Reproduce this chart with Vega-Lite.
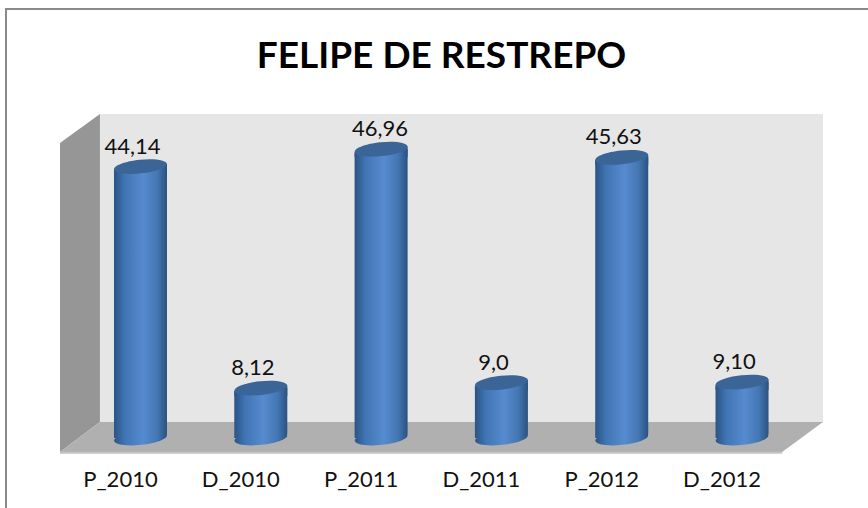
{
"$schema":"https://vega.github.io/schema/vega-lite/v6.json",
"width":763,"height":339,
"autosize":{"type":"none"},
"padding":{"left":60,"top":114,"right":45,"bottom":55},
"background":"#ffffff",
"view":{"stroke":null},
"title":{"text":"FELIPE DE RESTREPO","font":"Lato","fontSize":37,"fontWeight":"bold","color":"#000000","anchor":"middle","offset":-68},
"datasets":{
"bars":[
{"x":1,"y":44.14,"name":"P_2010","label":"44,14"},
{"x":2,"y":8.12,"name":"D_2010","label":"8,12"},
{"x":3,"y":46.96,"name":"P_2011","label":"46,96"},
{"x":4,"y":9.0,"name":"D_2011","label":"9,0"},
{"x":5,"y":45.63,"name":"P_2012","label":"45,63"},
{"x":6,"y":9.10,"name":"D_2012","label":"9,10"}
],
"frame":[{"x":-0.118,"x2":7.2,"y":69.76,"y2":-13.5}],
"back":[{"x":0.663,"x2":6.673,"y":52.68,"y2":2.6}],
"side":[{"x":0.331,"y":47.97,"y2":-2.28},{"x":0.663,"y":52.68,"y2":2.6}],
"floor":[{"x":0.331,"y":-2.28,"y2":-2.28},{"x":0.663,"y":2.6,"y2":-2.28},{"x":6.333,"y":2.6,"y2":-2.28},{"x":6.673,"y":2.6,"y2":2.6}],
"edge":[{"x":0.331,"x2":6.333,"y":-2.4}]
},
"encoding":{
"x":{"field":"x","type":"quantitative","scale":{"domain":[0.331,6.673],"nice":false,"zero":false,"padding":0},"title":null,
"axis":{"values":[1,2,3,4,5,6],"labelExpr":"['P_2010','D_2010','P_2011','D_2011','P_2012','D_2012'][datum.value-1]","domain":false,"ticks":false,"grid":false,"labelFont":"Lato","labelFontSize":22,"labelColor":"#111111","labelPadding":16,"labelOffset":-20.5,"labelAngle":0,"labelOverlap":false,"labelFlush":false}},
"y":{"field":"y","type":"quantitative","stack":null,"scale":{"domain":[-2.44,52.68],"nice":false,"zero":false},"axis":null}
},
"layer":[
{"data":{"name":"frame"},"mark":{"type":"rect","fill":null,"stroke":"#8a8a8a","strokeWidth":2,"clip":false},"encoding":{"x2":{"field":"x2"},"y2":{"field":"y2"}}},
{"data":{"name":"back"},"mark":{"type":"rect","fill":"#e6e6e6"},"encoding":{"x2":{"field":"x2"},"y2":{"field":"y2"}}},
{"data":{"name":"side"},"mark":{"type":"area","fill":"#969696","orient":"vertical"},"encoding":{"y2":{"field":"y2"}}},
{"data":{"name":"floor"},"mark":{"type":"area","fill":"#b0b0b0","orient":"vertical"},"encoding":{"y2":{"field":"y2"}}},
{"data":{"name":"edge"},"mark":{"type":"rule","stroke":"#c4c4c4","strokeWidth":2},"encoding":{"x2":{"field":"x2"}}},
{"data":{"name":"bars"},"mark":{"type":"point","filled":true,"size":2809,"opacity":1,"shape":"M-0.995,0.105A1,0.26,-6,1,1,0.995,-0.105A1,0.26,-6,1,1,-0.995,0.105Z",
"fill":{"gradient":"linear","x1":0,"y1":0,"x2":1,"y2":0,"stops":[{"offset":0,"color":"#2a5484"},{"offset":0.2,"color":"#4074b3"},{"offset":0.55,"color":"#568bd0"},{"offset":0.82,"color":"#4476b2"},{"offset":1,"color":"#2a527f"}]}},
"encoding":{"y":{"datum":0,"type":"quantitative"}}},
{"data":{"name":"bars"},"mark":{"type":"bar","orient":"vertical","size":53,"cornerRadiusTopLeft":5,"cornerRadiusBottomRight":5,
"fill":{"gradient":"linear","x1":0,"y1":0,"x2":1,"y2":0,"stops":[{"offset":0,"color":"#2a5484"},{"offset":0.2,"color":"#4074b3"},{"offset":0.55,"color":"#568bd0"},{"offset":0.82,"color":"#4476b2"},{"offset":1,"color":"#2a527f"}]}},
"encoding":{"y2":{"datum":0}}},
{"data":{"name":"bars"},"mark":{"type":"point","filled":true,"size":2809,"opacity":1,"shape":"M-1,0.105L1,-0.105L1,0.3L-1,0.3Z",
"fill":{"gradient":"linear","x1":0,"y1":0,"x2":1,"y2":0,"stops":[{"offset":0,"color":"#2a5484"},{"offset":0.2,"color":"#4074b3"},{"offset":0.55,"color":"#568bd0"},{"offset":0.82,"color":"#4476b2"},{"offset":1,"color":"#2a527f"}]}}},
{"data":{"name":"bars"},"mark":{"type":"point","filled":true,"size":2809,"opacity":1,"shape":"M-0.995,0.105A1,0.26,-6,1,1,0.995,-0.105A1,0.26,-6,1,1,-0.995,0.105Z","fill":"#3a6596"}},
{"data":{"name":"bars"},"transform":[{"filter":"datum.x!==3"}],"mark":{"type":"text","font":"Lato","fontSize":22,"color":"#111111","align":"center","baseline":"bottom","dx":-8,"dy":-8},"encoding":{"text":{"field":"label"}}},
{"data":{"name":"bars"},"transform":[{"filter":"datum.x===3"}],"mark":{"type":"text","font":"Lato","fontSize":22,"color":"#111111","align":"center","baseline":"bottom","dx":-1,"dy":-8},"encoding":{"text":{"field":"label"}}}
]
}
